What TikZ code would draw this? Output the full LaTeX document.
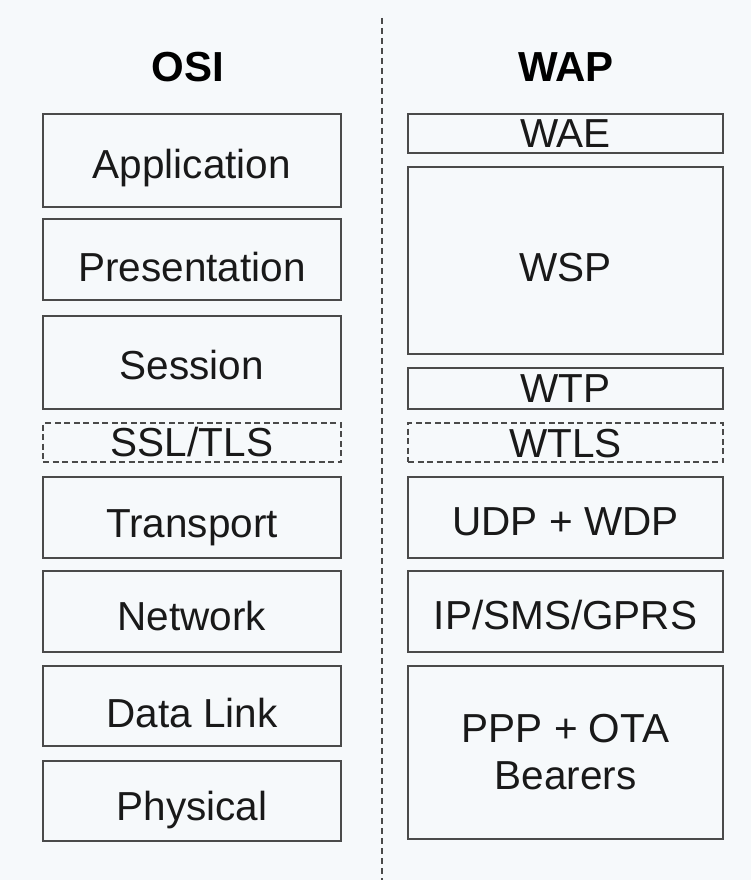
\documentclass[tikz,border=0pt]{standalone}
\usepackage{fontspec}
\setmainfont{Liberation Sans}
\definecolor{bg}{HTML}{F6F9FB}
\definecolor{ln}{HTML}{4A4A4A}
\begin{document}
\begin{tikzpicture}[x=1pt,y=-1pt,
  layer/.style={draw=ln, line width=1.6pt, rectangle, inner sep=0pt, outer sep=0pt, align=center, font=\fontsize{40.5}{47}\selectfont, text=black!90},
  dlayer/.style={layer, dash pattern=on 6pt off 3.5pt},
  title/.style={font=\fontsize{42}{46}\selectfont\bfseries, text=black}]
\fill[bg] (0,0) rectangle (751,880);
\useasboundingbox (0,0) rectangle (751,880);
\coordinate (dtop) at (382,18);
\coordinate (dbot) at (382,880);
\draw[ln, line width=1.3pt, dash pattern=on 6pt off 4pt] (dtop) -- (dbot);
\node[title] (osi) at (188,67) {OSI};
\node[title] (wap) at (566,67) {WAP};
% OSI
\node[layer, minimum width=298, minimum height=93, text height=35pt, text depth=0pt] (app) at (192,160.5) {Application};
\node[layer, minimum width=298, minimum height=81, text height=43pt, text depth=0pt] (pres) at (192,259.5) {Presentation};
\node[layer, minimum width=298, minimum height=93, text height=33pt, text depth=0pt] (sess) at (192,362.5) {Session};
\node[dlayer, minimum width=298, minimum height=39, text height=27pt, text depth=0pt] (ssl) at (192,442.5) {SSL/TLS};
\node[layer, minimum width=298, minimum height=81, text height=40pt, text depth=0pt] (trans) at (192,517.5) {Transport};
\node[layer, minimum width=298, minimum height=81, text height=37pt, text depth=0pt] (net) at (192,611.5) {Network};
\node[layer, minimum width=298, minimum height=80, text height=42pt, text depth=0pt] (dl) at (192,706) {Data Link};
\node[layer, minimum width=298, minimum height=80, text height=38pt, text depth=0pt] (phys) at (192,801) {Physical};
% WAP
\node[layer, minimum width=315, minimum height=39, text height=27pt, text depth=0pt] (wae) at (565.5,133.5) {WAE};
\node[layer, minimum width=315, minimum height=187, text height=42pt, text depth=0pt] (wsp) at (565.5,260.5) {WSP};
\node[layer, minimum width=315, minimum height=41, text height=28pt, text depth=0pt] (wtp) at (565.5,388.5) {WTP};
\node[dlayer, minimum width=315, minimum height=39, text height=29pt, text depth=0pt] (wtls) at (565.5,442.5) {WTLS};
\node[layer, minimum width=315, minimum height=81, text height=35pt, text depth=0pt] (udp) at (565.5,517.5) {UDP + WDP};
\node[layer, minimum width=315, minimum height=81, text height=36pt, text depth=0pt] (ip) at (565.5,611.5) {IP/SMS/GPRS};
\node[layer, minimum width=315, minimum height=173] (ppp) at (565.5,752.5) {PPP + OTA\\Bearers};
\end{tikzpicture}
\end{document}
